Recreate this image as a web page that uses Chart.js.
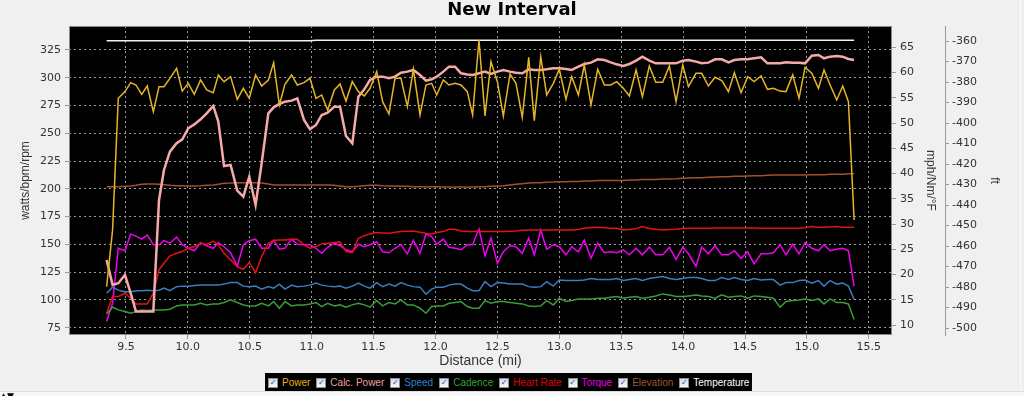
<!DOCTYPE html>
<html>
<head>
<meta charset="utf-8">
<script src="https://cdn.jsdelivr.net/npm/chart.js@4.4.1/dist/chart.umd.min.js"></script>
<style>
body { margin: 0; background: #f0f0f0; }
#wrap { position: relative; width: 1024px; height: 396px; overflow: hidden; }
#legend { position: absolute; left: 265px; top: 373px; width: 487px; height: 19px; background: #000;
          display: flex; align-items: center; padding-left: 3px; box-sizing: border-box;
          font: 10px "Liberation Sans", Arial, sans-serif; white-space: nowrap; }
.item { display: flex; align-items: center; margin-right: 6px; }
.box { width: 8px; height: 8px; border: 1px solid #8e8f8f; background: linear-gradient(#d6dde8, #f6f8fb);
       margin-right: 4px; font: bold 8px "DejaVu Sans"; color: #2a4a9a; line-height: 8px; text-align: center; }
#strip { position: absolute; left: 0; top: 391px; width: 1024px; height: 5px; border-top: 1px solid #dedede;
         background: #f7f7f7; font: 9px "DejaVu Sans"; line-height: 9px; color: #000; overflow: hidden; }
#edge { position: absolute; left: 1020px; top: 0; width: 1px; height: 396px; background: #fbfbfb; }
</style>
</head>
<body>
<div id="wrap">
  <canvas id="chart" width="1024" height="396"></canvas>
  <div id="legend"></div>
  <div id="edge"></div>
  <div id="strip">&#9650;&#9660;</div>
</div>
<script>
// distance (mi) of each sample
const distance = [
  9.344, 9.392, 9.438, 9.492, 9.538, 9.581, 9.627, 9.672, 9.721, 9.767,
  9.807, 9.855, 9.909, 9.955, 10.003, 10.052, 10.103, 10.152, 10.205, 10.246,
  10.292, 10.345, 10.399, 10.448, 10.496, 10.547, 10.596, 10.650, 10.693, 10.739,
  10.784, 10.838, 10.884, 10.938, 10.986, 11.035, 11.081, 11.129, 11.183, 11.229,
  11.277, 11.328, 11.377, 11.425,
  11.471, 11.525, 11.573, 11.624, 11.673, 11.721, 11.773, 11.821, 11.875, 11.923,
  11.969, 12.010, 12.063, 12.109, 12.158, 12.206, 12.257, 12.300, 12.351, 12.400,
  12.448, 12.500, 12.548, 12.602, 12.650, 12.701, 12.753, 12.798, 12.850, 12.898,
  12.952, 13.000, 13.054, 13.100, 13.154, 13.202, 13.256, 13.310, 13.364, 13.415,
  13.463,
  13.517, 13.566, 13.620, 13.671, 13.727, 13.779, 13.835, 13.889, 13.943, 13.997,
  14.043, 14.104, 14.150, 14.204, 14.258, 14.312, 14.366, 14.414, 14.468, 14.522,
  14.573, 14.630, 14.681, 14.729, 14.783, 14.831, 14.885, 14.936, 14.985, 15.039,
  15.093, 15.138, 15.187, 15.241, 15.289, 15.335, 15.381
];

// watts
const power = [
  112, 163, 281.5, 287.5, 295.6, 293.5, 285, 292.6, 269.5, 292, 292, 299.5, 308.5, 288, 295, 285,
  298, 289, 286.6, 302.5, 296.5, 301, 280.6, 290.5, 281.5, 302.5, 292.6, 298, 313.6, 275.5, 294,
  302.5, 293.5, 295.6, 299.5, 281.5, 284.5, 271, 289, 294.4, 279, 296.5, 287.5, 283.6,
  290.5, 305.5, 278.5, 267.4, 299.5, 299.5, 274, 307.6, 266.5, 293.5, 295, 284.5, 298, 293.5, 295,
  293.5, 287.5, 266.5, 334, 265.6, 314.5, 296.5, 265.6, 303.4, 295, 264.4, 318.4, 261.4, 319, 284.5,
  295, 307.6, 280.6, 301, 284.5, 311.5, 275.5, 307.6, 293.5, 293.5, 296.5,
  290.5, 283.6, 307, 283, 310.6, 296, 296, 310.6, 278.5, 311.5, 292, 304, 304, 292.6, 300.4, 297.4,
  287.5, 304.6, 286.6, 301, 296.5, 301.6, 289.6, 290.5, 288, 287.5, 302.5, 281.5, 309.4, 304, 290.5,
  307, 293.5, 280, 292.6, 278.5, 172
];

const calcPower = [
  136, 113.5, 115, 122.5, 106, 89.5, 89.5, 89.5, 89.5, 190, 217, 233.5, 241, 244.6, 254.5, 258,
  262.6, 268, 274.6, 260.5, 220.6, 221.5, 198.4, 193, 211, 185.5, 223, 268, 273.4, 276.4, 278.5,
  279.4, 281.5, 262, 253.6, 257.5, 266.5, 268.6, 274, 274, 247.6, 241, 283, 289.6,
  298, 301, 301, 299.5, 301, 304.6, 305.5, 307, 302.5, 297.4, 298.6, 301, 305.5, 310, 310, 304, 303,
  302.5, 304, 305.5, 303.4, 305.5, 307, 305.5, 304.6, 304, 307.6, 307, 307, 307.6, 308.5, 308.5,
  307.9, 307, 310, 312.4, 313.6, 316.6, 316, 313.9, 312.1,
  310.6, 312.4, 315.4, 319, 315.4, 313, 313, 313, 313, 315.4, 316, 314.5, 313, 313.6, 316.6, 316.6,
  313.9, 316, 316.6, 316.6, 317.5, 318.4, 313, 313, 313, 313.9, 313.6, 313.6, 313, 319.9, 320.5,
  317.5, 319, 319.6, 319, 316.9, 316
];

// mph
const speed = [
  16.3, 17.5, 16.9, 16.6, 16.6, 16.8, 16.8, 16.9, 16.8, 16.9, 17.3, 16.8, 17.6, 17.7, 17.7, 17.8,
  17.9, 17.9, 17.9, 17.9, 18.1, 18.4, 18.4, 17.7, 17.6, 17.7, 17.1, 17.6, 17.3, 18.1, 17.1, 17.9,
  17.6, 17.7, 17.9, 18.3, 17.9, 17.7, 17.6, 17.7, 17.3, 17.7, 18.3, 17.7,
  17.3, 18.4, 17.6, 18.1, 17.7, 18.4, 17.9, 17.6, 17.5, 16.1, 17.1, 17.5, 17.5, 17.9, 18.1, 18.1,
  17.3, 16.8, 16.8, 18.6, 17.6, 18.4, 18.3, 18.1, 18.1, 18.1, 17.6, 17.5, 17.6, 18.6, 17.7, 18.9,
  18.8, 18.8, 18.8, 18.9, 19.2, 19, 19, 19, 19.2,
  18.8, 19, 19.2, 18.8, 19.2, 19.4, 19.6, 19.2, 19, 19.2, 19.4, 19.4, 19.2, 18.8, 18.8, 19.4, 19,
  19.4, 19, 18.8, 19.2, 18.9, 19, 19, 17.9, 18.4, 18.4, 18.8, 18.9, 18.3, 18.8, 17.7, 18.8, 18.1,
  18.3, 17.7, 15.1
];

// rpm
const cadence = [
  87.4, 93.4, 91, 89.5, 88, 89.5, 91, 90.4, 91, 91, 91, 91.6, 94.6, 95.5, 95.5, 95.5, 97, 95.5,
  96.4, 96.4, 97.6, 100, 97.6, 95.5, 94.6, 94.6, 97, 94.6, 98.5, 92.5, 98.5, 94.6, 95.5, 95.5,
  96.4, 97.6, 94, 97, 94.6, 95.5, 93.4, 95.5, 97, 95.5,
  93.4, 99.4, 94.6, 97.6, 96.4, 100, 95.5, 95.5, 92.5, 88, 94, 94.6, 94.6, 97, 97.6, 98.5, 94,
  92.5, 92.5, 99.4, 97, 98.5, 98.5, 97.6, 97, 96.4, 94.6, 94, 94.6, 99.4, 95.5, 101.5, 98.5, 99.4,
  100.9, 100.9, 100.9, 101.5, 101.5, 102.4, 103,
  101.5, 102.4, 103, 101.5, 102.4, 103.6, 105.4, 104.5, 103, 103, 103.6, 104.5, 103.6, 103, 101.5,
  104.5, 102.4, 103, 103.6, 101.5, 103.6, 103, 102.4, 101.5, 93.4, 98.5, 99.4, 100, 100.9, 99.4,
  100.9, 96.4, 100.9, 97.6, 97.6, 96.4, 82.4
];

// bpm
const heartRate = [
  88, 103, 103, 106, 101.5, 96.4, 96.4, 96.4, 106, 127, 133, 139.6, 142, 143.5, 146.5, 148, 151,
  150, 153, 149.5, 142, 136, 130, 127.6, 133.6, 124.6, 139, 151, 153.4, 154, 154, 154.6, 154.6,
  149.5, 146.5, 148, 150.4, 151, 151.6, 152.2, 143.5, 142.6, 155.5, 157.9,
  159.4, 160.6, 160.3, 160, 160.9, 161.5, 161.8, 162.1, 161, 160, 159.4, 160.6, 161.5, 163.6, 163.6,
  162, 161.5, 161.5, 161.5, 161.5, 161.5, 161.5, 161.5, 161.8, 162.1, 162.6, 163, 163, 163, 163,
  163, 163, 163, 163, 163.3, 164.5, 165.1, 165.4, 165, 164.5, 164.5,
  163, 163.3, 164.2, 166, 164.2, 163.6, 163, 163.3, 163.6, 164.2, 164.5, 164.5, 164.5, 164.5, 164.8,
  164.8, 164.8, 164.8, 164.8, 164.8, 164.8, 164.5, 164.5, 164.5, 164.5, 164.5, 164.5, 164.5, 165,
  166, 165.4, 165.4, 165.7, 166, 165.4, 165.4, 165.4
];

// Nm
const torque = [
  10.7, 14.3, 25.2, 24.7, 28, 27.6, 27, 27.8, 25.9, 25.9, 26.7, 26.2, 27.4, 25.9, 25.2, 24.7, 26.3,
  25.7, 25.2, 26.3, 25.5, 24.3, 21.6, 25.9, 26.7, 27, 25.2, 25.2, 26.8, 25, 25.2, 27, 26, 25.9,
  25.9, 25.2, 24.2, 25.4, 26.2, 25.7, 24.9, 24.5, 26, 25.5,
  25.9, 26.5, 24.5, 24.3, 25.2, 25.9, 24.1, 26.8, 24.2, 28, 27.5, 26, 27, 25.4, 25.2, 24.9, 25.9,
  25.9, 29, 23.7, 27.2, 22.2, 24.5, 25.7, 25.5, 24.2, 27.2, 23.9, 28.8, 25, 25.9, 25.5, 23.9, 25.5,
  24.5, 26.8, 23.2, 26.2, 24.3, 24.5, 24.3,
  24.9, 23.9, 25.2, 23.9, 25.4, 23.9, 23.9, 25.4, 23, 25.4, 24.1, 21.6, 25.4, 24.1, 25.7, 23.9,
  23.9, 24.7, 23.2, 24.5, 22.1, 24.1, 24.1, 24.3, 25.9, 23.9, 26, 24.1, 26.3, 25.2, 24.7, 25.9,
  24.7, 25, 25.2, 24.7, 17.7
];

// ft
const elevation = [
  -431.1, -431.1, -431.1, -430.9, -430.7, -430.4, -429.9, -429.8, -429.8, -429.9, -430.1, -430.4,
  -430.6, -430.6, -430.7, -430.7, -430.6, -430.4, -430.2, -429.9, -429.4, -429.3, -429.1, -429.1,
  -429.1, -429.1, -429.3, -429.8, -430.2, -430.2, -430.2, -430.2, -430.2, -430.2, -430.2, -430.2,
  -430.2, -430.2, -430.4, -430.7, -431.1, -431.1, -430.9, -430.6,
  -430.4, -430.4, -430.6, -430.7, -430.7, -430.9, -430.9, -431.1, -431.1, -431.1, -431.1, -431.1,
  -431.2, -431.2, -431.2, -431.2, -431.2, -431.2, -431.1, -431.1, -430.9, -430.7, -430.6, -430.2,
  -429.9, -429.6, -429.3, -429.1, -429.1, -428.9, -428.8, -428.6, -428.6, -428.5, -428.5, -428.3,
  -428.3, -428.1, -428.1, -428, -428,
  -428, -427.8, -427.8, -427.6, -427.5, -427.5, -427.3, -427.3, -427.2, -427, -426.8, -426.7,
  -426.7, -426.5, -426.3, -426.2, -426.2, -426, -426, -425.8, -425.7, -425.7, -425.5, -425.4,
  -425.4, -425.4, -425.4, -425.4, -425.4, -425.2, -425.2, -425.2, -425, -425, -425, -424.8, -424.8
];

// °F
const temperature = [
  66.3, 66.3, 66.3, 66.3, 66.3, 66.3, 66.3, 66.3, 66.3, 66.3, 66.3, 66.3, 66.3, 66.3, 66.3, 66.3,
  66.3, 66.3, 66.3, 66.3, 66.3, 66.3, 66.3, 66.3, 66.3, 66.3, 66.3, 66.3, 66.3, 66.3, 66.3, 66.3,
  66.3, 66.3, 66.3, 66.4, 66.4, 66.4, 66.4, 66.4, 66.4, 66.4, 66.4, 66.4,
  66.4, 66.4, 66.4, 66.4, 66.4, 66.4, 66.4, 66.4, 66.4, 66.4, 66.4, 66.4, 66.4, 66.4, 66.4, 66.4,
  66.4, 66.4, 66.4, 66.4, 66.4, 66.4, 66.4, 66.4, 66.4, 66.4, 66.4, 66.4, 66.4, 66.4, 66.4, 66.4,
  66.4, 66.4, 66.4, 66.4, 66.4, 66.4, 66.4, 66.4, 66.4,
  66.4, 66.4, 66.4, 66.4, 66.4, 66.4, 66.4, 66.4, 66.4, 66.4, 66.4, 66.4, 66.4, 66.4, 66.4, 66.4,
  66.4, 66.4, 66.4, 66.4, 66.4, 66.4, 66.4, 66.4, 66.4, 66.4, 66.4, 66.4, 66.4, 66.4, 66.4, 66.4,
  66.4, 66.4, 66.4, 66.4, 66.4
];

const seriesNames = ["Power", "Calc. Power", "Speed", "Cadence", "Heart Rate", "Torque", "Elevation", "Temperature"];

// colours of the lines and of the legend texts
const lineColors = ["#e6b428", "#f6a9a9", "#3b7dbf", "#3a9c3a", "#e01414", "#f000f0", "#a0522d", "#f2f2f2"];
const textColors = ["#e3b012", "#f0a0a0", "#2f80c8", "#30a530", "#e80000", "#e800e8", "#a0522d", "#ffffff"];

Chart.defaults.font.family = "DejaVu Sans";
Chart.defaults.font.size = 11;
Chart.defaults.color = "#333";

const gridColor = "#9a9a9a";
const titleFont = { family: "Liberation Sans", size: 12 };

let plotBackground = {
    id: 'plot_background',
    beforeDraw: (chart) => {
        const ctx = chart.ctx;
        const a = chart.chartArea;
        ctx.save();
        ctx.fillStyle = '#000';
        ctx.fillRect(a.left, a.top, a.right - a.left, a.bottom - a.top);
        ctx.restore();
    },
    afterDraw: (chart) => {
        const ctx = chart.ctx;
        const a = chart.chartArea;
        ctx.save();
        ctx.strokeStyle = '#8a8a8a';
        ctx.lineWidth = 1;
        ctx.strokeRect(a.left + 0.5, a.top + 0.5, a.right - a.left - 1, a.bottom - a.top - 1);
        ctx.restore();
    }
};

function points(values) {
    return values.map((v, i) => ({ x: distance[i], y: v }));
}

function series(i, values, axis, width) {
    return {
        label: seriesNames[i],
        data: points(values),
        borderColor: lineColors[i],
        backgroundColor: lineColors[i],
        borderWidth: width,
        pointRadius: 0,
        tension: 0,
        fill: false,
        yAxisID: axis
    };
}

const datasets = [
    series(0, power, 'y', 1.5),
    series(1, calcPower, 'y', 2.5),
    series(2, speed, 'y1', 1.5),
    series(3, cadence, 'y', 1.5),
    series(4, heartRate, 'y', 1.5),
    series(5, torque, 'y1', 1.5),
    series(6, elevation, 'y2', 1.5),
    series(7, temperature, 'y1', 1.5)
];

new Chart(document.getElementById("chart"), {
    type: 'line',
    data: { datasets: datasets },
    plugins: [plotBackground],
    options: {
        responsive: false,
        animation: false,
        layout: { padding: { top: 0, left: 0, right: 0, bottom: 26.6 } },
        plugins: {
            legend: { display: false },
            tooltip: { enabled: false },
            title: {
                display: true,
                text: 'New Interval',
                color: '#000',
                font: { family: 'DejaVu Sans', size: 18, weight: 'bold' },
                padding: { top: 0, bottom: 4.4 }
            }
        },
        scales: {
            x: {
                type: 'linear',
                min: 9.04,
                max: 15.687,
                ticks: { stepSize: 0.5, includeBounds: false, autoSkip: false, maxRotation: 0, padding: 2,
                         callback: (v) => v.toFixed(1) },
                grid: { color: gridColor, tickLength: 4 },
                border: { display: false, dash: [2, 3] },
                title: { display: true, text: 'Distance (mi)', font: { family: "Liberation Sans", size: 14 },
                         color: '#333', padding: 0 },
                afterFit: (s) => { s.height = 34.4; }
            },
            y: {
                position: 'left',
                min: 68.4,
                max: 346.6,
                ticks: { stepSize: 25, includeBounds: false, padding: 4 },
                grid: { color: gridColor, tickLength: 4 },
                border: { display: false, dash: [2, 3] },
                title: { display: true, text: 'watts/bpm/rpm', font: titleFont, color: '#333', padding: { top: 18.6, bottom: 0 } },
                afterFit: (s) => { s.width = 69; }
            },
            y1: {
                position: 'right',
                min: 8.02,
                max: 69.22,
                ticks: { stepSize: 5, includeBounds: false, padding: 4 },
                grid: { drawOnChartArea: false, color: gridColor, tickLength: 4 },
                border: { display: false },
                title: { display: true, text: 'mph/Nm/°F', font: titleFont, color: '#333', padding: { top: 7.3, bottom: 0 } },
                afterFit: (s) => { s.width = 53; }
            },
            y2: {
                position: 'right',
                min: -503.41,
                max: -352.68,
                ticks: { stepSize: 10, includeBounds: false, padding: 3 },
                grid: { drawOnChartArea: false, color: gridColor, tickLength: 4 },
                border: { display: true, color: '#9a9a9a' },
                title: { display: true, text: 'ft', font: titleFont, color: '#333', padding: { top: 22.8, bottom: 0 } },
                afterFit: (s) => { s.width = 79; }
            }
        }
    }
});

// legend strip with ticked boxes
const legend = document.getElementById("legend");
for (var i = 0; i < seriesNames.length; i++) {
    var item = document.createElement("span");
    item.className = "item";
    var box = document.createElement("span");
    box.className = "box";
    box.textContent = "\u2713";
    var text = document.createElement("span");
    text.textContent = seriesNames[i];
    text.style.color = textColors[i];
    item.appendChild(box);
    item.appendChild(text);
    legend.appendChild(item);
}
</script>
</body>
</html>
